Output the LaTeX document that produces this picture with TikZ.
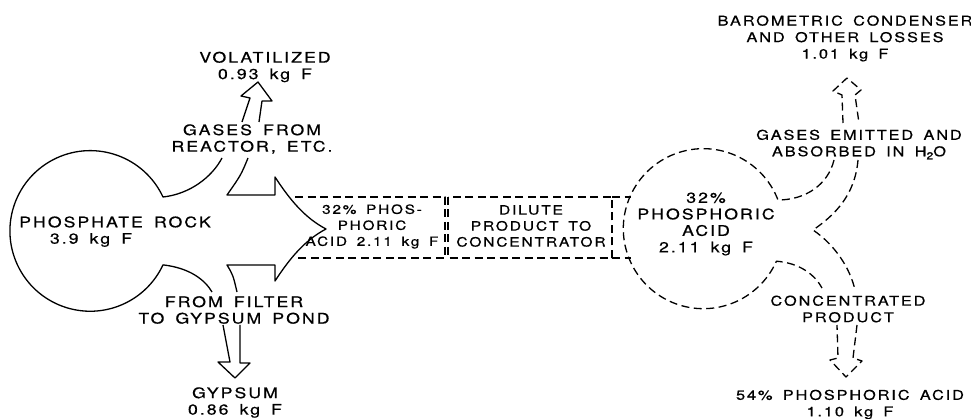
\documentclass[tikz,border=0pt]{standalone}
\usepackage{fontspec}
\setmainfont{TeX Gyre Heros}[FakeStretch=1.22,LetterSpace=14,WordSpace=1.6,FakeBold=0.6]
\begin{document}
\begin{tikzpicture}[x=1pt,y=1pt,line width=1.3pt,line join=round]
\tikzset{
  lbl/.style={align=center,inner sep=0pt,font=\fontsize{14.5}{16.5}\selectfont},
  lblr/.style={lbl,font=\fontsize{13.4}{16.5}\selectfont},
  dsh/.style={dash pattern=on 8pt off 4.5pt},
  outline/.style={draw=black,fill=none}
}
\useasboundingbox (0,0) rectangle (971,-419);

% ---------- left (solid) outline ----------
\draw[outline] (222,-158) .. controls (212,-177) and (190,-194) .. (163,-197)
  arc[start angle=25,end angle=335,radius=80.3]
  .. controls (190,-268) and (205,-280) .. (212,-292);
\draw[outline] (248,-158) .. controls (241,-175) .. (227,-195) -- (275,-195) -- (275,-177)
  .. controls (290,-200) and (305,-218) .. (326,-229)
  .. controls (305,-240) and (290,-258) .. (275,-281) -- (275,-265) -- (227,-265)
  .. controls (233,-275) .. (237,-292);
% up arrow (volatilized)
\draw[outline] (242,-122) -- (250,-98) -- (241,-96) -- (258,-82) -- (272,-101) -- (262,-101) -- (259,-122);
% down arrow (gypsum)
\draw[outline] (223,-325) -- (230,-362) -- (218,-362) -- (235,-378) -- (250,-363) -- (240,-363) -- (240,-325);

% ---------- dashed boxes ----------
\draw[outline,dsh] (295,-197) -- (445,-197) -- (445,-258) -- (295,-258);
\draw[outline,dsh] (448,-197) rectangle (612,-258);
\draw[outline,dsh] (612,-197) -- (631,-197);
\draw[outline,dsh] (612,-258) -- (631,-258);

% ---------- right (dashed) outline ----------
\draw[outline,dsh] (834,-160) .. controls (828,-185) and (805,-200) .. (778,-200)
  arc[start angle=21,end angle=336,radius=80]
  .. controls (800,-263) and (815,-275) .. (822,-288);
\draw[outline,dsh] (858,-160) .. controls (855,-195) and (835,-215) .. (813,-230)
  .. controls (835,-245) and (850,-268) .. (855,-290);
\draw[outline,dsh] (843,-123) -- (842,-95) -- (833,-91) -- (847,-78) -- (861,-90) -- (855,-95) -- (859,-123);
\draw[outline,dsh] (857,-325) -- (853,-358) -- (862,-361) -- (846,-377) -- (830,-360) -- (838,-358) -- (837,-325);

% ---------- labels ----------
\node[lbl] (volat) at (265,-67) {VOLATILIZED\\0.93 kg F};
\node[lbl] (gasesL) at (252,-139) {GASES FROM\\REACTOR, ETC.};
\node[lbl] (rock) at (115,-222) {PHOSPHATE ROCK};
\node[lbl] (rockval) at (91,-240) {3.9 kg F};
\node[lbl] (filter) at (234,-310) {FROM FILTER\\TO GYPSUM POND};
\node[lbl] (gypsum) at (235,-402.5) {GYPSUM\\0.86 kg F};
\node[lbl,font=\fontsize{12.6}{16}\selectfont] (phos32) at (372,-226.5) {32\% PHOS-\\PHORIC\\ACID 2.11 kg F};
\node[lbl,font=\fontsize{12.8}{16}\selectfont] (dilute) at (531,-226) {DILUTE\\PRODUCT TO\\CONCENTRATOR};
\node[lbl] (acid32) at (706,-224) {32\%\\PHOSPHORIC\\ACID\\2.11 kg F};
\node[lblr] (baro) at (845,-38.5) {BAROMETRIC CONDENSER\\AND OTHER LOSSES\\1.01 kg F};
\node[lblr] (gasesR) at (859,-144.5) {GASES EMITTED AND\\ABSORBED IN H\raisebox{-3pt}{\fontsize{10}{10}\selectfont 2}O};
\node[lblr] (conc) at (848,-309) {CONCENTRATED\\PRODUCT};
\node[lblr] (acid54) at (850,-404.5) {54\% PHOSPHORIC ACID\\1.10 kg F};
\end{tikzpicture}
\end{document}
